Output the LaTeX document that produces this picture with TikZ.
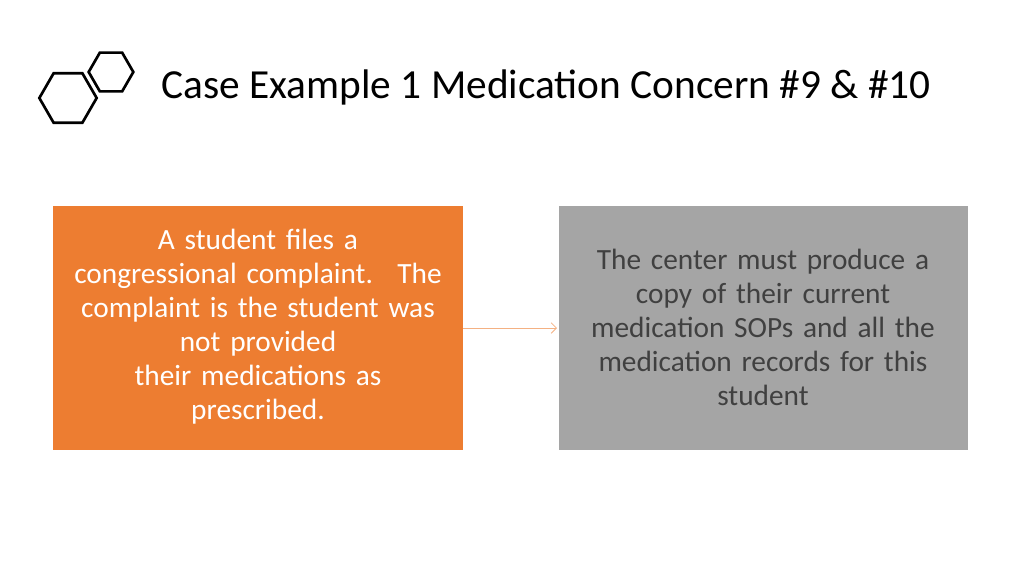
\documentclass[tikz,border=0pt]{standalone}
\usepackage{fontspec}
\setmainfont{Carlito}
\usetikzlibrary{shapes.geometric,arrows.meta}
\definecolor{orng}{HTML}{ED7D31}
\definecolor{gry}{HTML}{A5A5A5}
\definecolor{arr}{HTML}{F4B183}
\begin{document}
\begin{tikzpicture}[x=0.75pt,y=-0.75pt,
  hex/.style={regular polygon,regular polygon sides=6,draw=black,line width=2pt,inner sep=0pt},
  boxtxt/.style={align=center,font=\fontsize{22}{25.5}\selectfont,text width=300pt}]
\useasboundingbox (0,0) rectangle (1024,576);
\node[hex,minimum size=43pt] (h1) at (68,98) {};
\node[hex,minimum size=33.5pt] (h2) at (111,72) {};
\node[anchor=west,font=\fontsize{31}{34}\selectfont] (t) at (157,87) {Case Example 1 Medication Concern \#9 \& \#10};
\fill[orng] (53,206) rectangle (463,450);
\fill[gry] (559,206) rectangle (968,450);
\coordinate (ob) at (463,328);
\coordinate (gb) at (557,328);
\node[boxtxt,white] (o) at (258,327) {A student files a\\congressional complaint.~ The\\complaint is the student was\\not provided\\their medications as\\prescribed.};
\node[boxtxt,text=black!75] (g) at (763,327) {The center must produce a\\copy of their current\\medication SOPs and all the\\medication records for this\\student};
\draw[arr,line width=0.6pt,-{Straight Barb[length=4pt]}] (ob) -- (gb);
\end{tikzpicture}
\end{document}
